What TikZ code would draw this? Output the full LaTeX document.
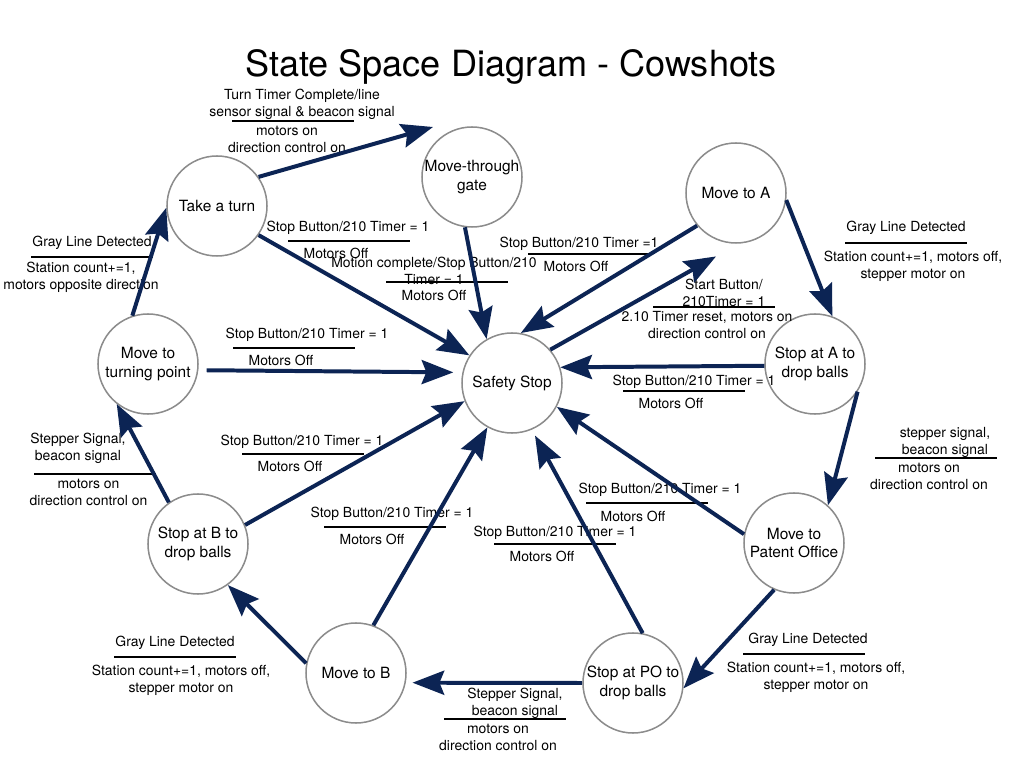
\documentclass[tikz,border=0pt]{standalone}
\usepackage{fontspec}
\setmainfont{TeX Gyre Heros}
\usetikzlibrary{arrows.meta}

\definecolor{navy}{RGB}{12,36,84}
\definecolor{rimgray}{RGB}{140,140,140}

\begin{document}
\begin{tikzpicture}[x=0.03cm,y=-0.03cm,
    state/.style={circle,draw=rimgray,line width=1.3pt,fill=white,minimum size=3cm,
      inner xsep=-0.5cm,inner ysep=0pt,align=center,font=\fontsize{13.2}{16.2}\selectfont},
    trans/.style={-{Stealth[length=0.95cm,width=0.72cm,inset=0.14cm]},draw=navy,line width=3.4pt},
    lbl/.style={align=center,inner sep=0pt,font=\fontsize{11.9}{14.5}\selectfont},
    bar/.style={line width=1.3pt}]

    \useasboundingbox [fill=white] (0,0) rectangle (1024,768);

    % Title
    \node (title) at (511,67) {\fontsize{30.8}{36}\selectfont State Space Diagram - Cowshots};

    % States
    \node [state] (tt) at (217,206) {Take a turn};
    \node [state] (gate) at (472,177) {Move-through\\gate};
    \node [state] (ma) at (736,193) {Move to A};
    \node [state] (sa) at (815,364) {Stop at A to\\drop balls};
    \node [state] (mpo) at (794,543) {Move to\\Patent Office};
    \node [state] (spo) at (633,683) {Stop at PO to\\drop balls};
    \node [state] (mb) at (356,673) {Move to B};
    \node [state] (sb) at (198,544) {Stop at B to\\drop balls};
    \node [state] (mtp) at (148,364) {Move to\\turning point};
    \node [state] (ss) at (512,383) {Safety Stop};

    % Take a turn -> Move-through gate
    \node [lbl] (e1) at (302,104.5) {Turn Timer Complete/line\\sensor signal \& beacon signal};
    \draw [bar] (232,121) -- ++(122,0);
    \node [lbl] (a1) at (287,139) {motors on\\direction control on};

    % Take a turn -> Safety Stop
    \node [lbl] (e2) at (348,228) {Stop Button/210 Timer = 1};
    \draw [bar] (288,241) -- ++(122,0);
    \node [lbl] (a2) at (336,253) {Motors Off};

    % Move-through gate -> Safety Stop
    \node [lbl] (e3) at (434,271) {Motion complete/Stop Button/210\\Timer = 1};
    \draw [bar] (386,282) -- ++(122,0);
    \node [lbl] (a3) at (434,295) {Motors Off};

    % Move to A -> Safety Stop
    \node [lbl] (e4) at (579,244) {Stop Button/210 Timer =1};
    \draw [bar] (528,254) -- ++(122,0);
    \node [lbl] (a4) at (576,266) {Motors Off};

    % Safety Stop -> Move to A
    \node [lbl] (e5) at (724,292.5) {Start Button/\\210Timer = 1};
    \draw [bar] (653,307) -- ++(122,0);
    \node [lbl] (a5) at (707,325.5) {2.10 Timer reset, motors on\\direction control on};

    % Move to A -> Stop at A
    \node [lbl] (e6) at (906,228) {Gray Line Detected};
    \draw [bar] (845,243) -- ++(122,0);
    \node [lbl] (a6) at (913,266) {Station count+=1, motors off,\\stepper motor on};

    % Stop at A -> Safety Stop
    \node [lbl] (e7) at (694,382) {Stop Button/210 Timer = 1};
    \draw [bar] (623,391) -- ++(122,0);
    \node [lbl] (a7) at (671,403) {Motors Off};

    % Stop at A -> Move to Patent Office
    \node [lbl] (e8) at (945,442.5) {stepper signal,\\beacon signal};
    \draw [bar] (875,458) -- ++(122,0);
    \node [lbl] (a8) at (929,476.5) {motors on\\direction control on};

    % Move to Patent Office -> Safety Stop
    \node [lbl] (e9) at (660,490) {Stop Button/210 Timer = 1};
    \draw [bar] (586,503) -- ++(122,0);
    \node [lbl] (a9) at (633,516) {Motors Off};

    % Move to Patent Office -> Stop at PO
    \node [lbl] (e10) at (808,640) {Gray Line Detected};
    \draw [bar] (743,654) -- ++(122,0);
    \node [lbl] (a10) at (816,677.5) {Station count+=1, motors off,\\stepper motor on};

    % Stop at PO -> Safety Stop
    \node [lbl] (e11) at (555,533) {Stop Button/210 Timer = 1};
    \draw [bar] (494,544) -- ++(122,0);
    \node [lbl] (a11) at (542,556) {Motors Off};

    % Stop at PO -> Move to B
    \node [lbl] (e12) at (515,703.5) {Stepper Signal,\\beacon signal};
    \draw [bar] (444,719) -- ++(122,0);
    \node [lbl] (a12) at (498,737.5) {motors on\\direction control on};

    % Move to B -> Safety Stop
    \node [lbl] (e13) at (392,514) {Stop Button/210 Timer = 1};
    \draw [bar] (324,527) -- ++(122,0);
    \node [lbl] (a13) at (372,539) {Motors Off};

    % Move to B -> Stop at B
    \node [lbl] (e14) at (175,643) {Gray Line Detected};
    \draw [bar] (114,657) -- ++(122,0);
    \node [lbl] (a14) at (181,680) {Station count+=1, motors off,\\stepper motor on};

    % Stop at B -> Safety Stop
    \node [lbl] (e15) at (302,442) {Stop Button/210 Timer = 1};
    \draw [bar] (242,454) -- ++(122,0);
    \node [lbl] (a15) at (290,466) {Motors Off};

    % Stop at B -> Move to turning point
    \node [lbl] (e16) at (78,448.5) {Stepper Signal,\\beacon signal};
    \draw [bar] (34,474) -- ++(122,0);
    \node [lbl] (a16) at (88.5,492.5) {motors on\\direction control on};

    % Move to turning point -> Safety Stop
    \node [lbl] (e17) at (307,335) {Stop Button/210 Timer = 1};
    \draw [bar] (233,348) -- ++(122,0);
    \node [lbl] (a17) at (281,360) {Motors Off};

    % Move to turning point -> Take a turn
    \node [lbl] (e18) at (92,243) {Gray Line Detected};
    \draw [bar] (31,257) -- ++(122,0);
    \node [lbl] (a18) at (81,277.5) {Station count+=1,\\motors opposite direction};

    % Transitions
    \coordinate (gate-in) at (433,127);
    \draw [trans] (tt.35) -- (gate-in);
    \draw [trans] (tt.-35) -- (ss.147);
    \draw [trans] (gate.-98) -- (ss.120);
    \draw [trans] (ma.-140) -- (ss.80);
    \draw [trans,shorten >=0.78cm] (ss.41) -- (ma.-87);
    \draw [trans] (ma.-8) -- (sa.70);
    \draw [trans] (sa.182) -- (ss.18);
    \draw [trans] (sa.-33) -- (mpo.48);
    \draw [trans] (mpo.170) -- (ss.-28);
    \draw [trans] (mpo.-113) -- (spo.-6);
    \draw [trans,shorten >=0.2cm] (spo.79) -- (ss.-67);
    \draw [trans,shorten >=0.2cm] (spo.180) -- (mb.-11);
    \draw [trans] (mb.70) -- (ss.-119);
    \draw [trans] (mb.169) -- (sb.-54);
    \draw [trans] (sb.22) -- (ss.-159);
    \draw [trans] (sb.125) -- (mtp.-128);
    \draw [trans,shorten <=0.25cm,shorten >=0.27cm] (mtp.-7) -- (ss.168);
    \draw [trans] (mtp.108) -- (tt.182);

\end{tikzpicture}
\end{document}
